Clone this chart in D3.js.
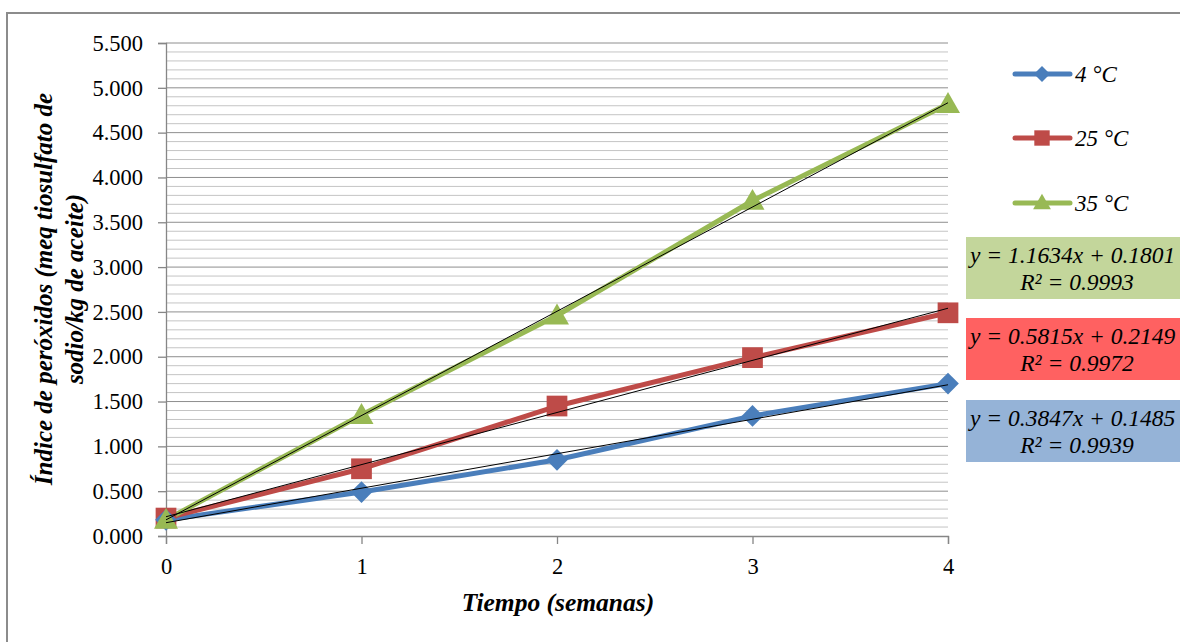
<!DOCTYPE html>
<html>
<head>
<meta charset="utf-8">
<script src="https://cdn.jsdelivr.net/npm/d3@7"></script>
</head>
<body style="margin:0">
<script>
// data
var weeks = [0, 1, 2, 3, 4];
var seriesNames = ["4 °C", "25 °C", "35 °C"];
var values4 = [0.18, 0.49, 0.85, 1.34, 1.70];
var values25 = [0.20, 0.75, 1.45, 1.99, 2.49];
var values35 = [0.18, 1.35, 2.46, 3.74, 4.82];
var slopes = [0.3847, 0.5815, 1.1634];
var intercepts = [0.1485, 0.2149, 0.1801];
var equationLabels = ["y = 0.3847x + 0.1485", "y = 0.5815x + 0.2149", "y = 1.1634x + 0.1801"];
var r2Labels = ["R² = 0.9939", "R² = 0.9972", "R² = 0.9993"];
var yTicks = [0, 0.5, 1, 1.5, 2, 2.5, 3, 3.5, 4, 4.5, 5, 5.5];

var svgWidth = 1180;
var svgHeight = 642;

var margin = { top: 43, right: 232, bottom: 106, left: 166 };
var width = svgWidth - margin.left - margin.right;
var height = svgHeight - margin.top - margin.bottom;

var serif = "Liberation Serif";
var colors = ["#4a7ebb", "#be4b48", "#98b954"];
var boxColors = ["#95b3d7", "#ff6161", "#c3d69b"];
var allValues = [values4, values25, values35];

var svg = d3.select("body")
  .append("svg")
  .attr("width", svgWidth)
  .attr("height", svgHeight);

// outer frame
svg.append("rect")
  .attr("x", 7).attr("y", 13)
  .attr("width", svgWidth).attr("height", svgHeight)
  .attr("fill", "none")
  .attr("stroke", "#8c8c8c")
  .attr("stroke-width", 2);

var chartGroup = svg.append("g")
  .attr("transform", `translate(${margin.left}, ${margin.top})`);

var xScale = d3.scaleLinear().domain([0, 4]).range([0, width]);
var yScale = d3.scaleLinear().domain([0, 5.5]).range([height, 0]);

// minor grid every 0.1
var minor = d3.range(1, 55).filter(function(i) { return i % 5 !== 0; }).map(function(i) { return i / 10; });
chartGroup.append("g")
  .selectAll("line")
  .data(minor)
  .enter()
  .append("line")
  .attr("x1", 0).attr("x2", width)
  .attr("y1", d => yScale(d)).attr("y2", d => yScale(d))
  .attr("stroke", "#c4c4c4")
  .attr("stroke-width", 1);

// major grid
chartGroup.append("g")
  .selectAll("line")
  .data(yTicks.slice(1))
  .enter()
  .append("line")
  .attr("x1", 0).attr("x2", width)
  .attr("y1", d => yScale(d)).attr("y2", d => yScale(d))
  .attr("stroke", "#8e8e8e")
  .attr("stroke-width", 1);

var fmt = function(d) { return d3.format(".3f")(d); };

var leftAxis = d3.axisLeft(yScale).tickValues(yTicks).tickFormat(fmt).tickSize(8).tickPadding(15);
var bottomAxis = d3.axisBottom(xScale).tickValues(weeks).tickFormat(d3.format("d")).tickSize(8).tickPadding(14);

var yAxisG = chartGroup.append("g").call(leftAxis);
var xAxisG = chartGroup.append("g").attr("transform", `translate(0, ${height})`).call(bottomAxis);

[yAxisG, xAxisG].forEach(function(g) {
  g.attr("font-family", null).attr("font-size", null);
  g.select(".domain").attr("stroke", "#868686").attr("stroke-width", 1.3);
  g.selectAll(".tick line").attr("stroke", "#868686").attr("stroke-width", 1.3);
  g.selectAll(".tick text")
    .attr("fill", "#000")
    .attr("font-family", serif)
    .attr("font-size", 22.5);
});

// series lines
var line = d3.line()
  .x((d, i) => xScale(weeks[i]))
  .y(d => yScale(d));

allValues.forEach(function(vals, s) {
  chartGroup.append("path")
    .datum(vals)
    .attr("d", line)
    .attr("fill", "none")
    .attr("stroke", colors[s])
    .attr("stroke-width", 5)
    .attr("stroke-linejoin", "round");
});

// markers
var symbols = [d3.symbolDiamond2 || d3.symbolDiamond, d3.symbolSquare, d3.symbolTriangle];
var sizes = [300, 430, 250];
var shiftY = [0, 0, 2];

function drawMarkers(s) {
  chartGroup.append("g")
    .selectAll("path")
    .data(allValues[s])
    .enter()
    .append("path")
    .attr("transform", (d, i) => `translate(${xScale(weeks[i])}, ${yScale(d) + shiftY[s]})`)
    .attr("d", d3.symbol().type(symbols[s]).size(sizes[s]))
    .attr("fill", colors[s]);
}
drawMarkers(1);
drawMarkers(0);
drawMarkers(2);

// trend lines
slopes.forEach(function(m, s) {
  chartGroup.append("line")
    .attr("x1", xScale(0)).attr("y1", yScale(intercepts[s]))
    .attr("x2", xScale(4)).attr("y2", yScale(intercepts[s] + m * 4))
    .attr("stroke", "#000")
    .attr("stroke-width", 1);
});

// legend
var legend = svg.append("g").attr("transform", "translate(1015, 0)");
var legendY = [74, 138, 203];
seriesNames.forEach(function(name, s) {
  var g = legend.append("g").attr("transform", `translate(0, ${legendY[s]})`);
  g.append("line")
    .attr("x1", 0).attr("x2", 55)
    .attr("stroke", colors[s]).attr("stroke-width", 5).attr("stroke-linecap", "round");
  g.append("path")
    .attr("transform", `translate(27, ${s === 2 ? 1 : 0})`)
    .attr("d", d3.symbol().type(symbols[s]).size(sizes[s] * 0.55))
    .attr("fill", colors[s]);
  g.append("text")
    .attr("x", 60).attr("y", 8)
    .attr("font-family", serif)
    .attr("font-size", 23)
    .attr("font-style", "italic")
    .text(name);
});

// equation boxes
var boxTops = [400, 318, 237];
[2, 1, 0].forEach(function(s) {
  var g = svg.append("g").attr("transform", `translate(966, ${boxTops[s]})`);
  g.append("rect")
    .attr("width", 220).attr("height", 62)
    .attr("fill", boxColors[s]);
  g.append("text")
    .attr("x", 4).attr("y", 26)
    .attr("font-family", serif)
    .attr("font-size", 23.5)
    .attr("font-style", "italic")
    .text(equationLabels[s]);
  g.append("text")
    .attr("x", 111).attr("y", 53)
    .attr("text-anchor", "middle")
    .attr("font-family", serif)
    .attr("font-size", 23.5)
    .attr("font-style", "italic")
    .text(r2Labels[s]);
});

// axis titles
var yTitle = svg.append("text")
  .attr("transform", "translate(52, 289) rotate(-90)")
  .attr("text-anchor", "middle")
  .attr("font-family", serif)
  .attr("font-size", 25)
  .attr("font-weight", "bold")
  .attr("font-style", "italic");
yTitle.append("tspan").attr("x", 0).attr("dy", 0).text("Índice de peróxidos (meq tiosulfato de");
yTitle.append("tspan").attr("x", 0).attr("dy", 31).text("sodio/kg de aceite)");

svg.append("text")
  .attr("x", 558).attr("y", 611)
  .attr("text-anchor", "middle")
  .attr("font-family", serif)
  .attr("font-size", 25.5)
  .attr("font-weight", "bold")
  .attr("font-style", "italic")
  .text("Tiempo (semanas)");
</script>
</body>
</html>
